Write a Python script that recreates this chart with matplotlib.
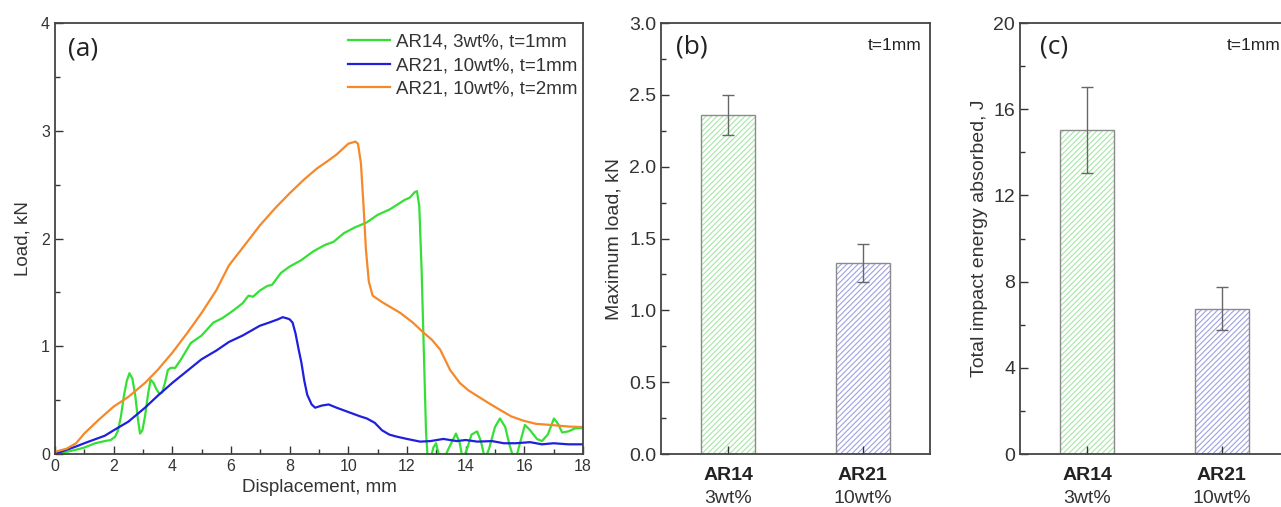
import matplotlib
matplotlib.use('Agg')
import matplotlib.pyplot as plt
from matplotlib.ticker import MultipleLocator
import numpy as np

plt.rcParams['font.family'] = ['Liberation Sans', 'DejaVu Sans']
plt.rcParams['hatch.linewidth'] = 0.8

# ---- (a) load-displacement curves ----
x_green = [0.0, 0.4, 0.72, 1.0, 1.37, 1.7, 1.9, 2.05, 2.15, 2.25, 2.35, 2.45, 2.54, 2.64, 2.74, 2.82,
           2.9, 2.98, 3.07, 3.17, 3.26, 3.36, 3.46, 3.56, 3.65, 3.75, 3.85, 3.95, 4.1, 4.3, 4.63,
           5.0, 5.4, 5.7, 6.07, 6.4, 6.6, 6.75, 7.0, 7.24, 7.4, 7.7, 8.0, 8.4, 8.8, 9.2, 9.5,
           9.85, 10.2, 10.63, 11.0, 11.41, 11.7, 11.93, 12.1, 12.26, 12.34, 12.42, 12.5, 12.58,
           12.65, 12.72, 12.8, 12.9, 12.99, 13.1, 13.2, 13.4, 13.67, 13.8, 13.9, 14.05, 14.2,
           14.39, 14.52, 14.66, 14.8, 15.0, 15.17, 15.35, 15.5, 15.68, 15.85, 16.02, 16.2, 16.43,
           16.6, 16.8, 17.01, 17.15, 17.29, 17.5, 17.75, 18.0]
y_green = [0.0, 0.02, 0.04, 0.06, 0.1, 0.12, 0.13, 0.16, 0.22, 0.35, 0.54, 0.68, 0.75, 0.7, 0.54, 0.34,
           0.19, 0.22, 0.35, 0.55, 0.69, 0.66, 0.6, 0.56, 0.57, 0.66, 0.78, 0.8, 0.8, 0.88, 1.03,
           1.1, 1.22, 1.26, 1.33, 1.4, 1.47, 1.46, 1.52, 1.56, 1.57, 1.68, 1.74, 1.8, 1.88, 1.94, 1.97,
           2.05, 2.1, 2.15, 2.22, 2.27, 2.32, 2.36, 2.38, 2.43, 2.44, 2.3, 1.7, 0.9,
           0.2, -0.1, -0.05, 0.06, 0.1, -0.02, -0.08, 0.04, 0.19, 0.1, -0.05, 0.05, 0.18,
           0.21, 0.12, -0.05, 0.05, 0.25, 0.33, 0.25, 0.08, -0.08, 0.1, 0.27, 0.22, 0.14,
           0.12, 0.18, 0.33, 0.28, 0.2, 0.21, 0.24, 0.24]

x_blue = [0.0, 0.3, 0.72, 1.0, 1.4, 1.7, 2.0, 2.5, 3.07, 3.5, 4.0, 4.5, 5.0, 5.5, 5.93, 6.4, 6.98,
          7.3, 7.6, 7.76, 7.9, 8.0, 8.1, 8.2, 8.3, 8.4, 8.5, 8.6, 8.75, 8.87, 9.1, 9.33, 9.6, 9.9,
          10.1, 10.4, 10.63, 10.9, 11.15, 11.4, 11.67, 12.0, 12.45, 12.8, 13.24, 13.7, 14.0, 14.4,
          14.9, 15.3, 15.7, 16.2, 16.6, 17.0, 17.5, 18.0]
y_blue = [0.0, 0.03, 0.07, 0.1, 0.14, 0.17, 0.22, 0.3, 0.43, 0.54, 0.66, 0.77, 0.88, 0.96, 1.04, 1.1, 1.19,
          1.22, 1.25, 1.27, 1.26, 1.25, 1.22, 1.12, 0.98, 0.85, 0.68, 0.55, 0.46, 0.43, 0.45, 0.46, 0.43, 0.4,
          0.38, 0.35, 0.33, 0.29, 0.22, 0.18, 0.16, 0.14, 0.115, 0.12, 0.14, 0.12, 0.13, 0.115,
          0.12, 0.1, 0.1, 0.11, 0.09, 0.1, 0.09, 0.09]

x_orange = [0.0, 0.4, 0.72, 1.0, 1.5, 2.0, 2.5, 3.07, 3.5, 4.0, 4.5, 5.0, 5.5, 5.93, 6.5, 6.98, 7.5,
            8.0, 8.5, 8.93, 9.3, 9.6, 10.0, 10.24, 10.33, 10.43, 10.52, 10.6, 10.7, 10.83, 11.15,
            11.77, 12.2, 12.55, 12.85, 13.13, 13.47, 13.8, 14.1, 14.39, 14.8, 15.17, 15.55, 15.96,
            16.4, 16.9, 17.5, 18.0]
y_orange = [0.02, 0.05, 0.1, 0.19, 0.32, 0.44, 0.53, 0.66, 0.78, 0.94, 1.12, 1.31, 1.52, 1.75, 1.95, 2.12, 2.28,
            2.42, 2.55, 2.65, 2.72, 2.78, 2.88, 2.9, 2.88, 2.7, 2.3, 1.9, 1.6, 1.47, 1.41,
            1.31, 1.22, 1.13, 1.06, 0.97, 0.78, 0.66, 0.59, 0.54, 0.47, 0.41, 0.35, 0.31,
            0.28, 0.27, 0.255, 0.25]

# ---- (b) and (c) bar data ----
groups = ['AR14', 'AR21']
loadings = ['3wt%', '10wt%']
max_load = [2.36, 1.33]
max_load_err = [0.14, 0.13]
energy = [15.05, 6.75]
energy_err = [2.0, 1.0]

c_green = '#35e035'
c_blue = '#1f1fdd'
c_orange = '#f5892a'
hatch_cols = ['#a6e6a6', '#a0a0e2']
txt = '#333333'

fig = plt.figure(figsize=(12.81, 5.07), dpi=100)
ax_a = fig.add_axes([0.0429, 0.1045, 0.4122, 0.85])
ax_b = fig.add_axes([0.516, 0.1045, 0.21, 0.85])
ax_c = fig.add_axes([0.7963, 0.1045, 0.21, 0.85])

ax_a.plot(x_green, y_green, color=c_green, lw=1.6, label='AR14, 3wt%, t=1mm')
ax_a.plot(x_blue, y_blue, color=c_blue, lw=1.6, label='AR21, 10wt%, t=1mm')
ax_a.plot(x_orange, y_orange, color=c_orange, lw=1.6, label='AR21, 10wt%, t=2mm')
ax_a.set_xlim(0, 18)
ax_a.set_ylim(0, 4)
ax_a.xaxis.set_major_locator(MultipleLocator(2))
ax_a.xaxis.set_minor_locator(MultipleLocator(1))
ax_a.yaxis.set_major_locator(MultipleLocator(1))
ax_a.yaxis.set_minor_locator(MultipleLocator(0.5))
ax_a.set_xlabel('Displacement, mm', fontsize=13.5, color=txt, labelpad=4)
ax_a.set_ylabel('Load, kN', fontsize=13.5, color=txt, labelpad=7)
ax_a.legend(loc='upper right', bbox_to_anchor=(1.0, 0.988), frameon=False, fontsize=13.5,
            handlelength=2.25, labelspacing=0.33, borderaxespad=0.0, borderpad=0.3,
            handletextpad=0.3, labelcolor=txt)
ax_a.text(0.025, 0.94, '(a)', transform=ax_a.transAxes, fontsize=19, family='Open Sans',
          va='center', color='#222222')
ax_a.tick_params(which='both', labelsize=11.5)

xpos = np.arange(1, len(groups) + 1)
panels = [(ax_b, max_load, max_load_err, 'Maximum load, kN', 3.0, 0.5, 0.25, '(b)', 0.056, 5),
          (ax_c, energy, energy_err, 'Total impact energy absorbed, J', 20, 4, 2, '(c)', 0.074, 4)]
for ax, vals, errs, ylab, lim, major, minor, tag, tag_x, lpad in panels:
    ax.bar(xpos, vals, width=0.4, color='white', edgecolor=hatch_cols, hatch='//////', lw=0)
    ax.bar(xpos, vals, width=0.4, fill=False, edgecolor='#8a8a8a', lw=1.0)
    ax.errorbar(xpos, vals, yerr=errs, fmt='none', ecolor='#666666', elinewidth=1.0,
                capsize=4, capthick=1.0)
    ax.set_xlim(0.5, 2.5)
    ax.set_ylim(0, lim)
    ax.set_xticks(xpos)
    ax.set_xticklabels([])
    ax.yaxis.set_major_locator(MultipleLocator(major))
    ax.yaxis.set_minor_locator(MultipleLocator(minor))
    ax.set_ylabel(ylab, fontsize=14, color=txt, labelpad=lpad)
    ax.tick_params(which='both', labelsize=14)
    if tag == '(b)':
        ax.yaxis.set_major_formatter(plt.FormatStrFormatter('%.1f'))
    for xp, g, l in zip(xpos, groups, loadings):
        ax.text(xp, -0.051, g, transform=ax.get_xaxis_transform(), ha='center', va='center',
                fontsize=14, fontweight='bold', color='#222222')
        ax.text(xp, -0.103, l, transform=ax.get_xaxis_transform(), ha='center', va='center',
                fontsize=14, color=txt)
    ax.text(0.97, 0.965, 't=1mm', transform=ax.transAxes, ha='right', va='top',
            fontsize=12.5, color='#222222')
    ax.text(tag_x, 0.944, tag, transform=ax.transAxes, fontsize=19, family='Open Sans',
            va='center', color='#222222')

for ax in (ax_a, ax_b, ax_c):
    ax.tick_params(which='both', direction='in', top=False, right=False,
                   labelcolor=txt, color='#333333')
    ax.tick_params(which='major', length=5.5, width=1)
    ax.tick_params(which='minor', length=3.5, width=1)
    for s in ax.spines.values():
        s.set_color('#444444')
        s.set_linewidth(1.3)
ax_b.tick_params(axis='x', which='minor', length=0)
ax_c.tick_params(axis='x', which='minor', length=0)

fig.savefig('out.png', dpi=100)
